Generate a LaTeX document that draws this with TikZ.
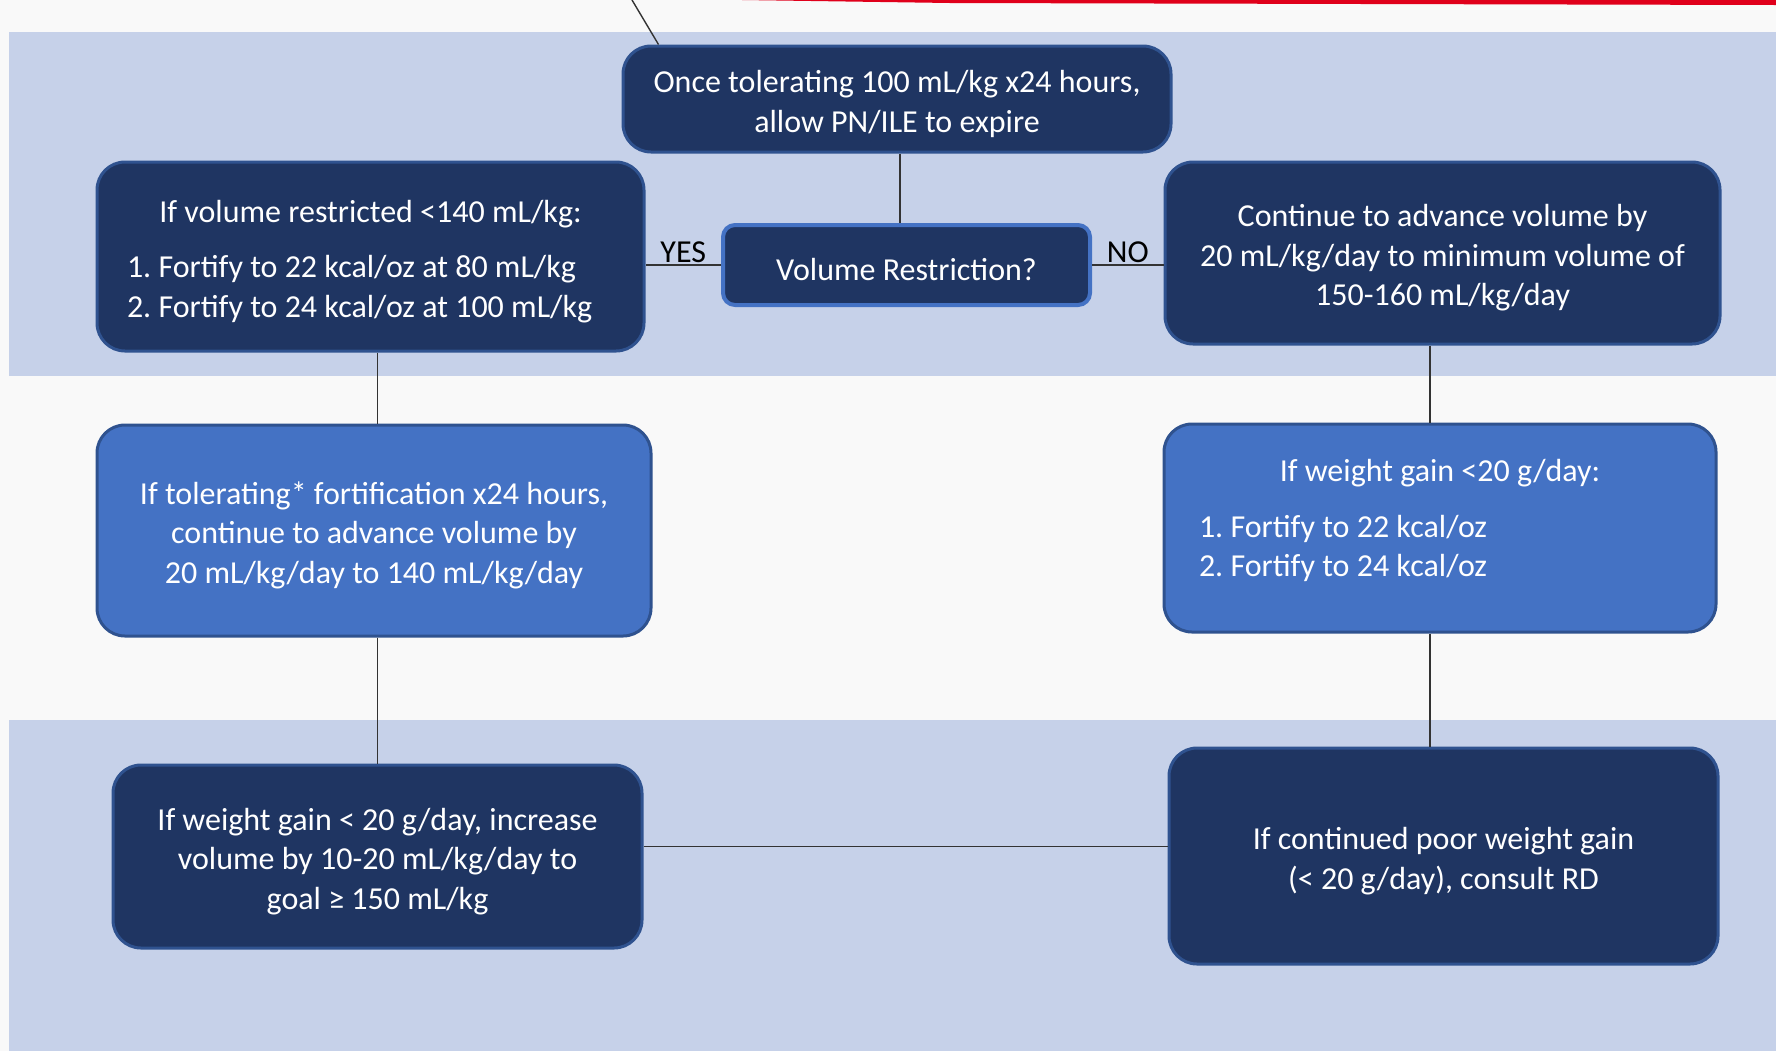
\documentclass[tikz,border=0pt]{standalone}
\usepackage{fontspec}
\setmainfont{Carlito}
\usetikzlibrary{positioning}
\definecolor{navy}{HTML}{1F3562}
\definecolor{navyline}{HTML}{2F528F}
\definecolor{midblue}{HTML}{4472C4}
\definecolor{bandblue}{HTML}{C6D1E9}
\definecolor{bandwhite}{HTML}{F9F9F9}
\definecolor{swoosh}{HTML}{E0001B}
\frenchspacing
\newcommand\linelift{\rule{0pt}{16pt}}
\newcommand\linesink{\rule[-10pt]{0pt}{0pt}}
\begin{document}
\begin{tikzpicture}[x=0.5pt,y=-0.5pt,
  font=\fontsize{16}{19.75}\selectfont,
  darkbox/.style={draw=navyline,line width=1.5pt,fill=navy,text=white,
    rounded corners=14pt,align=center,inner sep=0pt},
  lightbox/.style={darkbox,fill=midblue},
  askbox/.style={darkbox,draw=midblue,line width=2pt,rounded corners=6pt},
  listbox/.style={align=flush left,text width=#1},
  link/.style={draw=black!80,line width=0.7pt},
  answer/.style={midway,above=1pt,inner sep=0pt}]
\useasboundingbox (0,0) rectangle (1776,1051);
\fill[bandwhite] (0,0) rectangle (1776,1051);
\fill[bandblue] (9,32) rectangle (1776,376);
\fill[bandblue] (9,720) rectangle (1776,1051);
\fill[swoosh] (742,0) -- (1776,0) -- (1776,5) -- (950,3) -- cycle;

\node[darkbox,minimum width=274pt,minimum height=53pt] (top) at (897,99)
  {\linelift Once tolerating 100 mL/kg x24 hours,\\allow PN/ILE to expire};
\node[askbox,minimum width=183.5pt,minimum height=40pt] (restrict) at (906.5,265)
  {\linelift Volume Restriction?};
\node[darkbox,listbox=243.5pt,minimum width=273.5pt,minimum height=94.5pt] (fortify) at (370.5,256.5)
  {{\centering\linelift If volume restricted <140 mL/kg:\par}\vspace{8pt}
   1. Fortify to 22 kcal/oz at 80 mL/kg\\2. Fortify to 24 kcal/oz at 100 mL/kg};
\node[darkbox,minimum width=277.5pt,minimum height=91pt] (advance) at (1442.5,253)
  {\linelift Continue to advance volume by\\20 mL/kg/day to minimum volume of\\150-160 mL/kg/day};
\node[lightbox,minimum width=277pt,minimum height=105.5pt] (tolerate) at (374,530.5)
  {\linelift If tolerating* fortification x24 hours,\\continue to advance volume by\\20 mL/kg/day to 140 mL/kg/day};
\node[lightbox,listbox=241pt,minimum width=276pt,minimum height=104pt] (gain) at (1440,528)
  {{\centering If weight gain <20 g/day:\par}\vspace{8pt}
   1. Fortify to 22 kcal/oz\\2. Fortify to 24 kcal/oz\linesink};
\node[darkbox,minimum width=264.5pt,minimum height=91.5pt] (increase) at (377.5,856.5)
  {\linelift If weight gain < 20 g/day, increase\\volume by 10-20 mL/kg/day to\\goal ≥ 150 mL/kg};
\node[darkbox,minimum width=274.5pt,minimum height=108pt] (consult) at (1443.5,856)
  {\linelift If continued poor weight gain\\(< 20 g/day), consult RD};

\coordinate (cut) at (632,0);
\draw[link] (cut) -- ([xshift=18.5pt]top.north west);
\draw[link] ([xshift=1.5pt]top.south) -- ([xshift=1.5pt]top.south |- restrict.north);
\draw[link] (restrict.west) -- (restrict.west -| fortify.east) node[answer] {YES};
\draw[link] (restrict.east) -- (restrict.east -| advance.west) node[answer] {NO};
\draw[link] (increase.north |- fortify.south) -- (increase.north |- tolerate.north);
\draw[link] (increase.north |- tolerate.south) -- (increase.north);
\draw[link] ([xshift=-5pt]gain.north |- advance.south) -- ([xshift=-5pt]gain.north);
\draw[link] ([xshift=-5pt]gain.south) -- ([xshift=-5pt]gain.south |- consult.north);
\draw[link] ([yshift=5pt]increase.east) -- ([yshift=5pt]increase.east -| consult.west);
\end{tikzpicture}
\end{document}
